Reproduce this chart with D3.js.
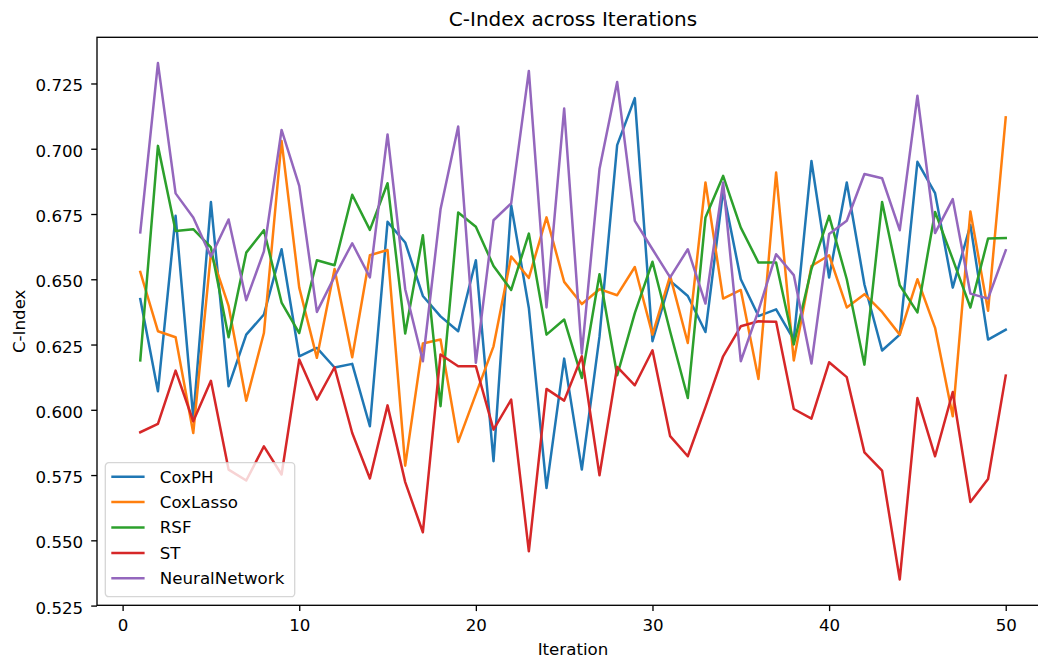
<!DOCTYPE html>
<html>
<head>
<meta charset="utf-8">
<script src="https://cdn.jsdelivr.net/npm/d3@7/dist/d3.min.js"></script>
<style>
  html, body { margin: 0; padding: 0; background: #fff; }
  svg { display: block; font-family: "DejaVu Sans", sans-serif; }
</style>
</head>
<body>
<svg id="chart" width="1038" height="660"></svg>
<script>
// C-Index per iteration for each model
const iterations = d3.range(1, 51);
const modelNames = ["CoxPH", "CoxLasso", "RSF", "ST", "NeuralNetwork"];
const modelColors = ["#1f77b4", "#ff7f0e", "#2ca02c", "#d62728", "#9467bd"];

const coxph = [0.6424, 0.6071, 0.6743, 0.5969, 0.6796, 0.6090, 0.6288, 0.6365, 0.6615, 0.6205,
  0.6237, 0.6162, 0.6176, 0.5937, 0.6720, 0.6641, 0.6436, 0.6358, 0.6301, 0.6573,
  0.5803, 0.6784, 0.6390, 0.5700, 0.6196, 0.5771, 0.6280, 0.7014, 0.7194, 0.6263,
  0.6494, 0.6436, 0.6298, 0.6839, 0.6500, 0.6359, 0.6385, 0.6269, 0.6953, 0.6507,
  0.6871, 0.6480, 0.6227, 0.6288, 0.6950, 0.6830, 0.6468, 0.6708, 0.6269, 0.6307];
const coxlasso = [0.6528, 0.6301, 0.6278, 0.5911, 0.6600, 0.6398, 0.6035, 0.6294, 0.7030, 0.6468,
  0.6199, 0.6539, 0.6201, 0.6592, 0.6612, 0.5786, 0.6254, 0.6269, 0.5877, 0.6060,
  0.6243, 0.6587, 0.6505, 0.6737, 0.6490, 0.6405, 0.6462, 0.6439, 0.6547, 0.6288,
  0.6513, 0.6256, 0.6871, 0.6426, 0.6459, 0.6118, 0.6909, 0.6189, 0.6551, 0.6592,
  0.6392, 0.6443, 0.6375, 0.6288, 0.6500, 0.6314, 0.5975, 0.6760, 0.6379, 0.7120];
const rsf = [0.6189, 0.7011, 0.6685, 0.6692, 0.6622, 0.6278, 0.6602, 0.6688, 0.6411, 0.6294,
  0.6573, 0.6554, 0.6824, 0.6689, 0.6868, 0.6292, 0.6669, 0.6014, 0.6756, 0.6701,
  0.6551, 0.6459, 0.6675, 0.6288, 0.6346, 0.6122, 0.6519, 0.6132, 0.6370, 0.6567,
  0.6300, 0.6045, 0.6737, 0.6896, 0.6698, 0.6564, 0.6564, 0.6250, 0.6539, 0.6743,
  0.6500, 0.6173, 0.6796, 0.6477, 0.6373, 0.6758, 0.6577, 0.6392, 0.6656, 0.6658];
const st = [0.5914, 0.5946, 0.6150, 0.5956, 0.6111, 0.5771, 0.5729, 0.5860, 0.5752, 0.6193,
  0.6039, 0.6163, 0.5911, 0.5737, 0.6017, 0.5723, 0.5531, 0.6212, 0.6167, 0.6167,
  0.5924, 0.6039, 0.5458, 0.6080, 0.6035, 0.6205, 0.5749, 0.6164, 0.6094, 0.6228,
  0.5899, 0.5822, 0.6010, 0.6205, 0.6320, 0.6339, 0.6337, 0.6003, 0.5966, 0.6182,
  0.6125, 0.5837, 0.5767, 0.5350, 0.6045, 0.5822, 0.6068, 0.5647, 0.5735, 0.6131];
const neuralNetwork = [0.6680, 0.7328, 0.6829, 0.6737, 0.6587, 0.6729, 0.6420, 0.6607, 0.7072, 0.6858,
  0.6375, 0.6510, 0.6638, 0.6507, 0.7055, 0.6462, 0.6186, 0.6768, 0.7085, 0.6180,
  0.6726, 0.6791, 0.7298, 0.6392, 0.7154, 0.6215, 0.6922, 0.7256, 0.6724, 0.6615,
  0.6507, 0.6615, 0.6407, 0.6871, 0.6186, 0.6380, 0.6596, 0.6516, 0.6177, 0.6673,
  0.6724, 0.6903, 0.6887, 0.6688, 0.7203, 0.6677, 0.6807, 0.6445, 0.6426, 0.6611];

const xTicks = [0, 10, 20, 30, 40, 50];
const yTicks = [0.525, 0.550, 0.575, 0.600, 0.625, 0.650, 0.675, 0.700, 0.725];

const seriesValues = [coxph, coxlasso, rsf, st, neuralNetwork];
const series = modelNames.map((name, k) => ({
  name,
  color: modelColors[k],
  points: iterations.map((it, i) => ({ x: it, y: seriesValues[k][i] }))
}));

// Layout (px)
const plot = { left: 97, top: 37.3, right: 1049, bottom: 605.3 };
const tickFont = 16.67, titleFont = 20;

const svg = d3.select("#chart");

// Scales with 5% padding around the data, like the default autoscale
function padded(lo, hi) { const m = (hi - lo) * 0.05; return [lo - m, hi + m]; }
const allY = seriesValues.flat();
const x = d3.scaleLinear()
  .domain(padded(d3.min(iterations), d3.max(iterations)))
  .range([plot.left, plot.right]);
const y = d3.scaleLinear()
  .domain(padded(d3.min(allY), d3.max(allY)))
  .range([plot.bottom, plot.top]);

// Lines
const line = d3.line().x(d => x(d.x)).y(d => y(d.y));
svg.append("g")
  .selectAll("path")
  .data(series)
  .join("path")
  .attr("d", d => line(d.points))
  .attr("fill", "none")
  .attr("stroke", d => d.color)
  .attr("stroke-width", 2.5)
  .attr("stroke-linejoin", "round")
  .attr("stroke-linecap", "square");

// Axes
const xAxis = d3.axisBottom(x).tickValues(xTicks).tickFormat(d3.format("d"))
  .tickSize(5.8).tickPadding(7.8);
const yAxis = d3.axisLeft(y).tickValues(yTicks).tickFormat(d3.format(".3f"))
  .tickSize(5.8).tickPadding(8);

const gx = svg.append("g").attr("transform", `translate(0,${plot.bottom})`).call(xAxis);
const gy = svg.append("g").attr("transform", `translate(${plot.left},0)`).call(yAxis);
[gx, gy].forEach(g => {
  g.select(".domain").remove();
  g.selectAll(".tick line").attr("stroke", "#000").attr("stroke-width", 1.33);
  g.selectAll(".tick text").attr("fill", "#000")
    .style("font-size", tickFont + "px")
    .style("font-family", "DejaVu Sans, sans-serif");
});
gy.selectAll(".tick text").attr("dy", "0.45em");

// Frame
svg.append("rect")
  .attr("x", plot.left).attr("y", plot.top)
  .attr("width", plot.right - plot.left).attr("height", plot.bottom - plot.top)
  .attr("fill", "none").attr("stroke", "#000").attr("stroke-width", 1.33);

// Title and axis labels
svg.append("text")
  .attr("x", (plot.left + plot.right) / 2).attr("y", 26)
  .attr("text-anchor", "middle")
  .style("font-size", titleFont + "px")
  .text("C-Index across Iterations");

svg.append("text")
  .attr("x", (plot.left + plot.right) / 2).attr("y", 655)
  .attr("text-anchor", "middle")
  .style("font-size", tickFont + "px")
  .text("Iteration");

svg.append("text")
  .attr("transform", `translate(25,${(plot.top + plot.bottom) / 2}) rotate(-90)`)
  .attr("text-anchor", "middle")
  .style("font-size", tickFont + "px")
  .text("C-Index");

// Legend
const legend = svg.append("g").attr("transform", "translate(105.3,462.7)");
legend.append("rect")
  .attr("width", 189.4).attr("height", 134)
  .attr("rx", 3.5).attr("ry", 3.5)
  .attr("fill", "#fff").attr("fill-opacity", 0.8)
  .attr("stroke", "#cccccc").attr("stroke-opacity", 0.8).attr("stroke-width", 1.33);

const rows = legend.selectAll("g.entry")
  .data(series)
  .join("g")
  .attr("class", "entry")
  .attr("transform", (d, i) => `translate(0,${14 + i * 25.4})`);
rows.append("line")
  .attr("x1", 6).attr("x2", 39.3)
  .attr("stroke", d => d.color).attr("stroke-width", 2.5);
rows.append("text")
  .attr("x", 54.5).attr("dy", "0.35em")
  .style("font-size", tickFont + "px")
  .text(d => d.name);
</script>
</body>
</html>
